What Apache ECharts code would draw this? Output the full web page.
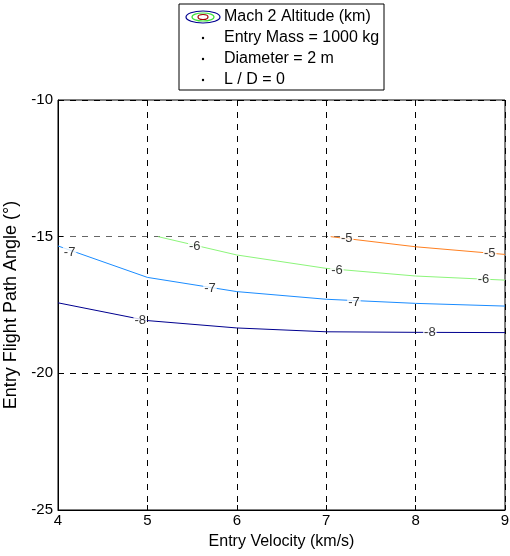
<!DOCTYPE html>
<html>
<head>
<meta charset="utf-8">
<script src="https://cdn.jsdelivr.net/npm/echarts@6/dist/echarts.min.js"></script>
<style>
  html, body { margin: 0; padding: 0; background: #fff; }
  #chart { width: 510px; height: 556px; }
</style>
</head>
<body>
<div id="chart"></div>
<script>
// x轴刻度 / y轴刻度
const velocityTicks = [4, 5, 6, 7, 8, 9]
const angleTicks = [-25, -20, -15, -10]

// 等值线 (velocity, angle)
const contourLevels = [-8, -7, -6, -5]
const contourVelocity = {
  '-8': [4, 5, 6, 7, 8, 9],
  '-7': [4, 5, 6, 7, 8, 9],
  '-6': [5.12, 6, 7, 8, 9],
  '-5': [7.05, 8, 9]
}
const contourAngle = {
  '-8': [-17.42, -18.07, -18.34, -18.48, -18.50, -18.51],
  '-7': [-15.34, -16.49, -17.01, -17.29, -17.44, -17.54],
  '-6': [-15.0, -15.67, -16.16, -16.44, -16.59],
  '-5': [-15.0, -15.37, -15.65]
}
const contourColors = {
  '-8': '#00008f',
  '-7': '#1a8cff',
  '-6': '#8cf57a',
  '-5': '#ff8020'
}

// 等值线标签位置
const labelVelocity = [4.92, 8.16, 4.13, 5.7, 7.31, 5.53, 7.12, 8.76, 7.23, 8.83]
const labelAngle = [-18.05, -18.5, -15.56, -16.9, -17.4, -15.37, -16.24, -16.55, -15.07, -15.61]
const labelText = ['-8', '-8', '-7', '-7', '-7', '-6', '-6', '-6', '-5', '-5']

// 图例文字
const legendTitle = 'Mach 2 Altitude (km)'
const legendNotes = ['Entry Mass = 1000 kg', 'Diameter = 2 m', 'L / D = 0']

const font = 'Arial, "Liberation Sans", sans-serif'

const lineSeries = contourLevels.map(level => ({
  type: 'line',
  name: String(level),
  symbol: 'none',
  silent: true,
  lineStyle: { color: contourColors[level], width: 1 },
  data: contourVelocity[level].map((v, i) => [v, contourAngle[level][i]])
}))

const labelSeries = {
  type: 'scatter',
  symbolSize: 0,
  silent: true,
  z: 5,
  data: labelVelocity.map((v, i) => [v, labelAngle[i], labelText[i]]),
  label: {
    show: true,
    position: 'inside',
    formatter: p => p.value[2],
    color: '#000',
    fontFamily: font,
    fontSize: 13,
    backgroundColor: '#fff',
    padding: [0, 1]
  }
}

// 图例 (手绘)
const legendX = 179
const legendY = 4
const rowY = [17, 38, 59, 80]
const legendGraphic = [
  { type: 'rect', shape: { x: legendX, y: legendY, width: 205, height: 86 }, style: { fill: '#fff', stroke: '#000', lineWidth: 1 } },
  { type: 'ellipse', shape: { cx: 203, cy: rowY[0], rx: 17, ry: 6 }, style: { fill: 'none', stroke: '#00008f', lineWidth: 1.2 } },
  { type: 'ellipse', shape: { cx: 203, cy: rowY[0], rx: 11, ry: 4 }, style: { fill: 'none', stroke: '#3ee03e', lineWidth: 1.2 } },
  { type: 'ellipse', shape: { cx: 203, cy: rowY[0], rx: 5, ry: 2.5 }, style: { fill: 'none', stroke: '#a00000', lineWidth: 1.2 } },
  { type: 'text', x: 224, y: rowY[0], style: { text: legendTitle, font: '16px ' + font, fill: '#000', verticalAlign: 'middle' } }
]
legendNotes.forEach((t, i) => {
  legendGraphic.push({ type: 'circle', shape: { cx: 203, cy: rowY[i + 1], r: 1.2 }, style: { fill: '#000' } })
  legendGraphic.push({ type: 'text', x: 224, y: rowY[i + 1], style: { text: t, font: '16px ' + font, fill: '#000', verticalAlign: 'middle' } })
})

const option = {
  animation: false,
  backgroundColor: '#fff',
  grid: {
    left: 58, right: 5, top: 100, bottom: 46,
    outerBoundsMode: 'none',
    containLabel: false,
    show: true, borderColor: '#000', borderWidth: 1, backgroundColor: 'transparent'
  },
  xAxis: {
    type: 'value',
    min: velocityTicks[0],
    max: velocityTicks[velocityTicks.length - 1],
    interval: 1,
    name: 'Entry Velocity (km/s)',
    nameLocation: 'middle',
    nameGap: 24,
    nameTextStyle: { fontFamily: font, fontSize: 16, color: '#000' },
    axisLine: { lineStyle: { color: '#000' } },
    axisTick: { inside: true, length: 5, lineStyle: { color: '#000' } },
    axisLabel: { fontFamily: font, fontSize: 15, color: '#000', margin: 3 },
    splitLine: { show: true, lineStyle: { color: '#000', type: [6, 6], width: 1 } }
  },
  yAxis: {
    type: 'value',
    min: angleTicks[0],
    max: angleTicks[angleTicks.length - 1],
    interval: 5,
    name: 'Entry Flight Path Angle (°)',
    nameLocation: 'middle',
    nameGap: 31,
    nameTextStyle: { fontFamily: font, fontSize: 18, color: '#000' },
    axisLine: { show: true, lineStyle: { color: '#000' } },
    axisTick: { show: true, inside: true, length: 5, lineStyle: { color: '#000' } },
    axisLabel: { fontFamily: font, fontSize: 15, color: '#000', margin: 5 },
    splitLine: { show: true, lineStyle: { color: ['#000', '#000', '#666', '#000'], type: [6, 6], width: 1 } }
  },
  series: [...lineSeries, labelSeries],
  graphic: legendGraphic
}

const myChart = echarts.init(document.getElementById('chart'))
myChart.setOption(option)
</script>
</body>
</html>
